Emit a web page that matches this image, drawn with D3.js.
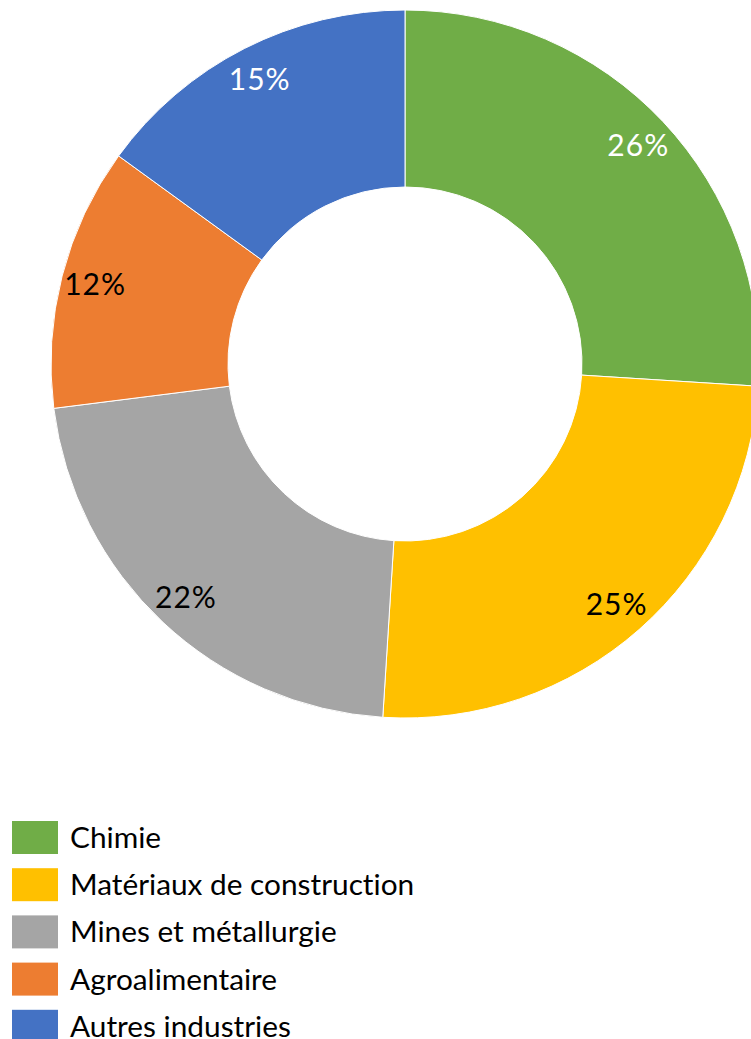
<!DOCTYPE html>
<html>
<head>
<meta charset="utf-8">
<script src="https://cdn.jsdelivr.net/npm/d3@7"></script>
<style>
  html, body { margin: 0; padding: 0; background: #fff; }
  svg { display: block; }
  text { font-variant-ligatures: none; }
</style>
</head>
<body>
<svg id="chart" width="751" height="1039"></svg>
<script>
// Sector shares (%)
const categories = ["Chimie", "Matériaux de construction", "Mines et métallurgie", "Agroalimentaire", "Autres industries"];
const shares = [26, 25, 22, 12, 15];
const colors = ["#70AD47", "#FFC000", "#A5A5A5", "#ED7D31", "#4472C4"];
const labelColors = ["#ffffff", "#000000", "#000000", "#000000", "#ffffff"];

const font = "Lato, 'Open Sans', sans-serif";
const svg = d3.select("#chart");

const cx = 405, cy = 364, outerR = 354, innerR = 177, labelR = 320;

const data = categories.map((c, i) => ({ name: c, value: shares[i], color: colors[i], labelColor: labelColors[i] }));

const pie = d3.pie().value(d => d.value).sort(null);
const arc = d3.arc().innerRadius(innerR).outerRadius(outerR);
const labelArc = d3.arc().innerRadius(labelR).outerRadius(labelR);

const g = svg.append("g").attr("transform", `translate(${cx},${cy})`);
const arcs = pie(data);

g.selectAll("path.slice")
  .data(arcs)
  .join("path")
  .attr("class", "slice")
  .attr("d", arc)
  .attr("fill", d => d.data.color)
  .attr("stroke", "#ffffff")
  .attr("stroke-width", 1);

g.selectAll("text.pct")
  .data(arcs)
  .join("text")
  .attr("class", "pct")
  .attr("transform", d => `translate(${labelArc.centroid(d)})`)
  .attr("text-anchor", "middle")
  .attr("dy", "0.36em")
  .attr("fill", d => d.data.labelColor)
  .style("font-family", font)
  .style("font-size", "30px")
  .style("letter-spacing", "1px")
  .text(d => d.data.value + "%");

// Legend
const legend = svg.append("g").attr("transform", "translate(12,821)");
const rowH = 47.2;
const rows = legend.selectAll("g.item")
  .data(data)
  .join("g")
  .attr("class", "item")
  .attr("transform", (d, i) => `translate(0,${i * rowH})`);

rows.append("rect")
  .attr("width", 46)
  .attr("height", 33)
  .attr("fill", d => d.color);

rows.append("text")
  .attr("x", 58)
  .attr("y", 27)
  .attr("fill", "#000")
  .style("font-family", font)
  .style("font-size", "29.8px")
  .text(d => d.name);
</script>
</body>
</html>
